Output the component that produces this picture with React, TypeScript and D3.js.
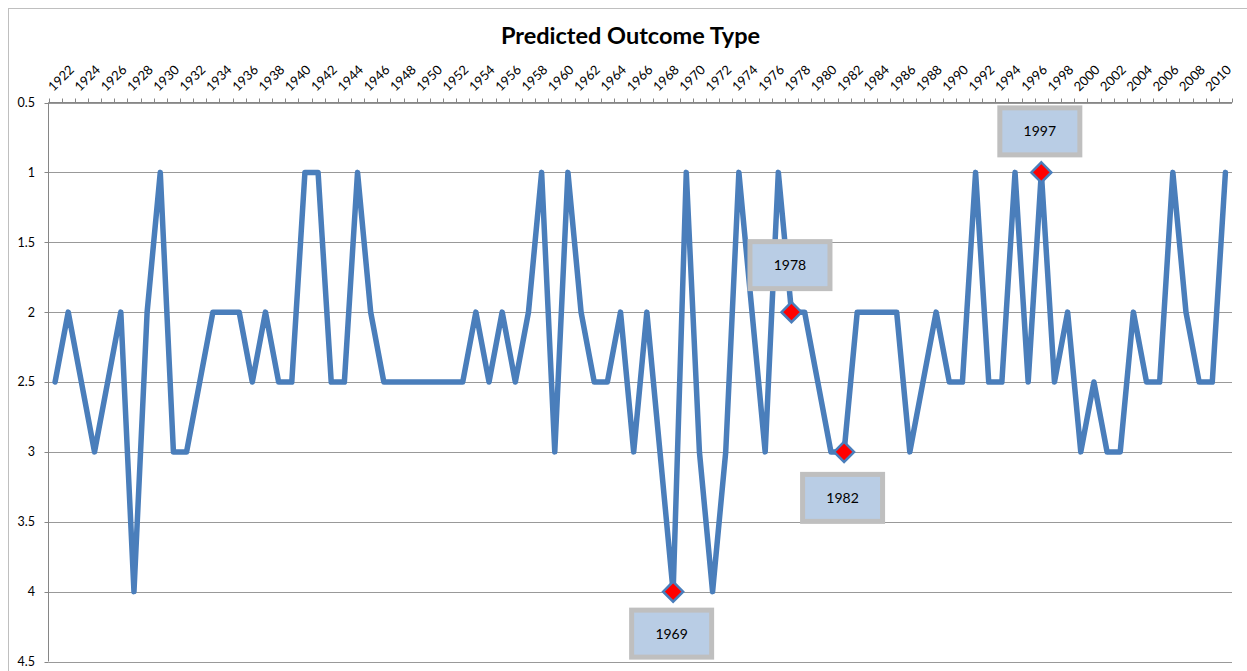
import React from "react";
import * as d3 from "d3";

const years: number[] = d3.range(1922, 2012);
const outcomes: number[] = [
  2.5, 2, 2.5, 3, 2.5, 2, 4, 2, 1, 3,
  3, 2.5, 2, 2, 2, 2.5, 2, 2.5, 2.5, 1,
  1, 2.5, 2.5, 1, 2, 2.5, 2.5, 2.5, 2.5, 2.5,
  2.5, 2.5, 2, 2.5, 2, 2.5, 2, 1, 3, 1,
  2, 2.5, 2.5, 2, 3, 2, 3, 4, 1, 3,
  4, 3, 1, 2, 3, 1, 2, 2, 2.5, 3,
  3, 2, 2, 2, 2, 3, 2.5, 2, 2.5, 2.5,
  1, 2.5, 2.5, 1, 2.5, 1, 2.5, 2, 3, 2.5,
  3, 3, 2, 2.5, 2.5, 1, 2, 2.5, 2.5, 1,
];
const yTicks: number[] = [0.5, 1, 1.5, 2, 2.5, 3, 3.5, 4, 4.5];
const highlightYears: number[] = [1969, 1978, 1982, 1997];
const highlightLabels: string[] = ["1969", "1978", "1982", "1997"];
const labelOffsets: number[] = [42, -47, 46, -41];
const title = "Predicted Outcome Type";

const W = 1247;
const H = 671;
const plotL = 48.5;
const plotR = 1232;
const plotT = 102.5;
const plotB = 661.5;

export default function App() {
  const x = d3.scaleBand<number>().domain(years).range([plotL, plotR]).paddingInner(0).paddingOuter(0);
  const bw = x.bandwidth();
  const cx = (yr: number) => (x(yr) as number) + bw / 2;
  const y = d3.scaleLinear().domain([0.5, 4.5]).range([plotT, plotB]);

  const data = years.map((yr, i) => ({ yr, v: outcomes[i] }));
  const line = d3
    .line<{ yr: number; v: number }>()
    .x((d) => cx(d.yr))
    .y((d) => y(d.v));

  const boundaries = d3.range(0, years.length + 1).map((i) => plotL + i * bw);
  const font = "Lato, 'Open Sans', sans-serif";
  const dsz = 10;

  return (
    <svg
      width={W}
      height={H}
      style={{ position: "absolute", left: 0, top: 0, background: "#fff" }}
      fontFamily={font}
    >
      <rect x={0} y={0} width={W} height={H} fill="#fff" />
      <rect x={8.5} y={8.5} width={W + 20} height={H + 20} fill="none" stroke="#BFBFBF" strokeWidth={1} />
      <text x={630.5} y={44} textAnchor="middle" fontSize={23.5} fontWeight="bold" fill="#000">
        {title}
      </text>

      {/* gridlines */}
      {yTicks.map((t) => (
        <line key={"g" + t} x1={plotL} x2={plotR} y1={Math.round(y(t)) + 0.5} y2={Math.round(y(t)) + 0.5} stroke="#999" strokeWidth={1} />
      ))}
      {/* left axis */}
      <line x1={plotL} x2={plotL} y1={plotT} y2={plotB} stroke="#868686" strokeWidth={1} />
      {yTicks.map((t) => (
        <g key={"yt" + t}>
          <line x1={plotL - 4} x2={plotL} y1={Math.round(y(t)) + 0.5} y2={Math.round(y(t)) + 0.5} stroke="#868686" />
          <text x={35} y={y(t)} dy="0.35em" textAnchor="end" fontSize={12.5} fill="#000">
            {String(t)}
          </text>
        </g>
      ))}
      {/* top category axis */}
      <line x1={plotL} x2={plotR} y1={plotT} y2={plotT} stroke="#868686" strokeWidth={1} />
      {boundaries.map((bx, i) => (
        <line key={"xt" + i} x1={Math.round(bx) + 0.5} x2={Math.round(bx) + 0.5} y1={plotT - 4} y2={plotT} stroke="#868686" />
      ))}
      {years.map((yr, i) =>
        i % 2 === 0 ? (
          <text
            key={"xl" + yr}
            transform={`translate(${cx(yr) - 1.5},${92}) rotate(-45)`}
            fontSize={13}
            fill="#000"
          >
            {String(yr)}
          </text>
        ) : null
      )}

      {/* series */}
      <path d={line(data) || ""} fill="none" stroke="#4A7EBB" strokeWidth={5.5} strokeLinejoin="round" strokeLinecap="round" />

      {/* highlighted markers */}
      {highlightYears.map((yr) => {
        const i = years.indexOf(yr);
        const px = cx(yr);
        const py = y(outcomes[i]);
        return (
          <path
            key={"m" + yr}
            d={`M${px},${py - dsz} L${px + dsz},${py} L${px},${py + dsz} L${px - dsz},${py} Z`}
            fill="#FF0000"
            stroke="#4A7EBB"
            strokeWidth={2.5}
          />
        );
      })}

      {/* annotation boxes */}
      {highlightYears.map((yr, k) => {
        const i = years.indexOf(yr);
        const bx = cx(yr) - 1.5;
        const by = y(outcomes[i]) + labelOffsets[k];
        return (
          <g key={"a" + yr}>
            <rect x={bx - 40} y={by - 23.5} width={80} height={47} fill="#B9CDE5" stroke="#BFBFBF" strokeWidth={5} />
            <text x={bx} y={by} dy="0.35em" textAnchor="middle" fontSize={14} fill="#000">
              {highlightLabels[k]}
            </text>
          </g>
        );
      })}
    </svg>
  );
}
